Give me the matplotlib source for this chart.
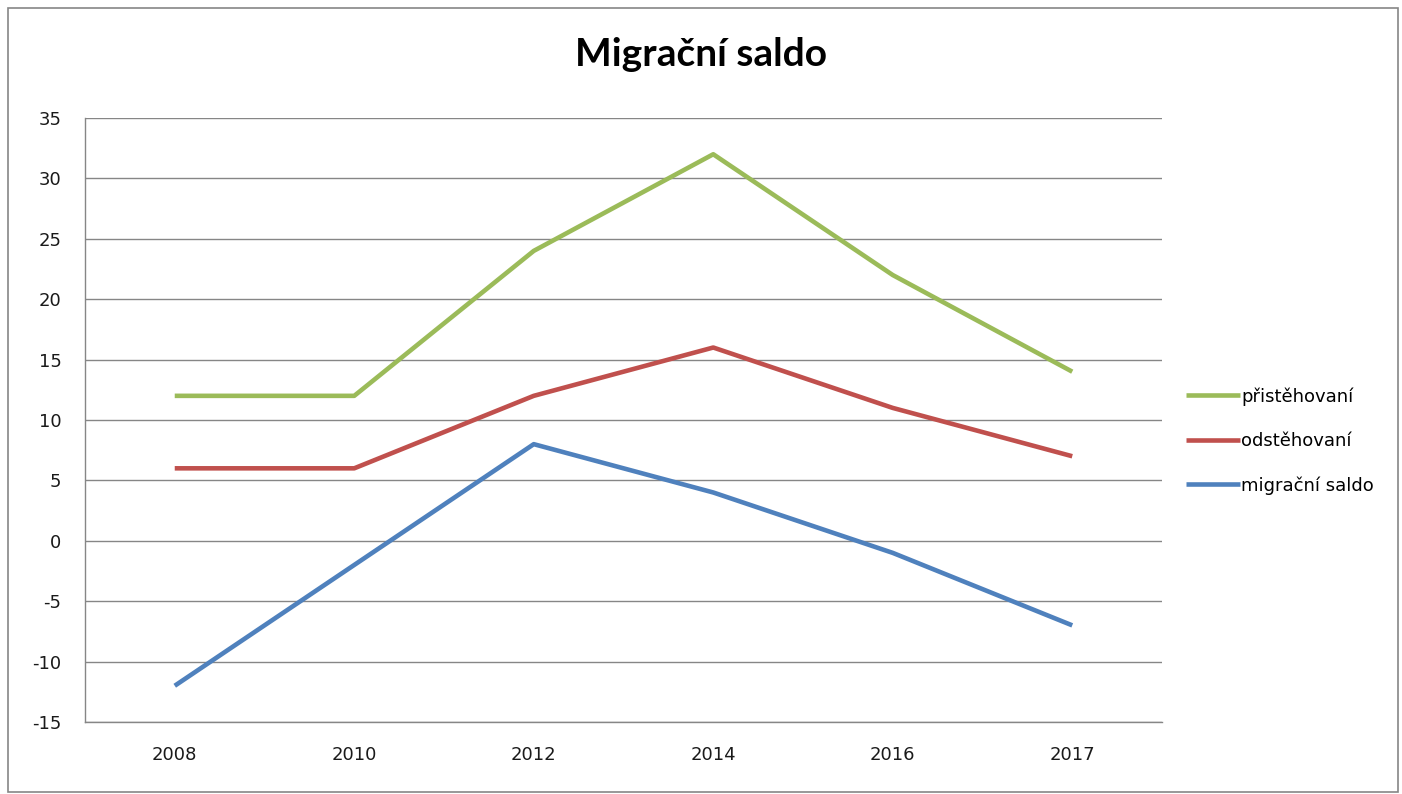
import matplotlib
matplotlib.use("Agg")
import matplotlib.pyplot as plt
from matplotlib.patches import Rectangle
import numpy as np

plt.rcParams['font.family'] = ['DejaVu Sans']
plt.rcParams['axes.unicode_minus'] = False

years = ['2008', '2010', '2012', '2014', '2016', '2017']
prist = [12, 12, 24, 32, 22, 14]
odst = [6, 6, 12, 16, 11, 7]
saldo = [-12, -2, 8, 4, -1, -7]

series_names = ['přistěhovaní', 'odstěhovaní', 'migrační saldo']
colors = ['#9BBB59', '#C0504D', '#4F81BD']

fig = plt.figure(figsize=(14.02, 7.94), dpi=100)
ax = fig.add_axes([85 / 1402, 1 - 722 / 794, (1162 - 85) / 1402, (722 - 118) / 794])

x = np.arange(len(years))
for vals, name, c in zip([prist, odst, saldo], series_names, colors):
    ax.plot(x, vals, color=c, lw=3.3, label=name, solid_capstyle='butt')

ax.set_xlim(-0.5, len(years) - 0.5)
ax.set_ylim(-15, 35)
ax.set_yticks(np.arange(-15, 36, 5))
ax.set_xticks(x)
ax.set_xticklabels(years)
ax.yaxis.grid(True, color='#868686', lw=1.0)
ax.set_axisbelow(True)
for s in ['top', 'right']:
    ax.spines[s].set_visible(False)
for s in ['left', 'bottom']:
    ax.spines[s].set_color('#868686')
    ax.spines[s].set_linewidth(1.0)
ax.tick_params(axis='both', length=0, labelsize=13, colors='#1a1a1a')
ax.tick_params(axis='y', pad=17)
ax.tick_params(axis='x', pad=17)

fig.text(0.5, 1 - 55 / 794, 'Migrační saldo', ha='center', va='center',
         fontsize=28, fontweight='bold', family=['Lato', 'DejaVu Sans'])

leg = fig.legend(loc='center left', bbox_to_anchor=(1179 / 1402, 1 - 441 / 794),
                 frameon=False, fontsize=13, handlelength=3.0, handletextpad=0.05,
                 labelspacing=1.45, borderaxespad=0)

fig.patches.append(Rectangle((8 / 1402, 2 / 794), 1 - 12 / 1402, 1 - 10 / 794,
                             transform=fig.transFigure, fill=False,
                             edgecolor='#868686', lw=1.2))

fig.savefig('out.png', dpi=100)
